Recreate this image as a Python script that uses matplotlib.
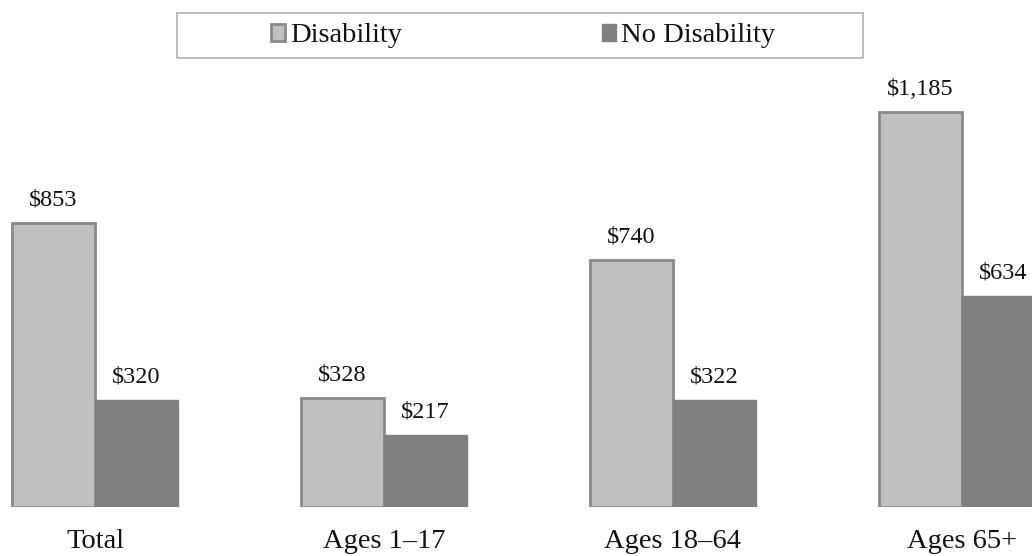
import matplotlib
matplotlib.use("Agg")
import matplotlib.pyplot as plt
from matplotlib.patches import Rectangle
import numpy as np

categories = ["Total", "Ages 1\u201317", "Ages 18\u201364", "Ages 65+"]
series_names = ["Disability", "No Disability"]
disability = [853, 328, 740, 1185]
no_disability = [320, 217, 322, 634]
value_labels_dis = ["$853", "$328", "$740", "$1,185"]
value_labels_nodis = ["$320", "$217", "$322", "$634"]

plt.rcParams['font.family'] = ['Liberation Serif', 'DejaVu Serif']

W, H = 1032, 556
fig = plt.figure(figsize=(W / 100, H / 100), dpi=100)
ax = fig.add_axes([0, 49 / H, 1, (H - 49) / H])

x = np.arange(len(categories))
bw = 83 / 289
xmin = -95 / 289
ax.set_xlim(xmin, xmin + W / 289)
ax.set_ylim(0, 507 / 0.3333)

b1 = ax.bar(x - bw / 2, disability, bw, color="#c0c0c0", edgecolor="#8a8a8a",
            linewidth=2.0, label=series_names[0], zorder=2)
b2 = ax.bar(x + bw / 2, no_disability, bw, color="#808080", edgecolor="#808080",
            linewidth=1.0, label=series_names[1], zorder=2)

for rect, lab in zip(b1, value_labels_dis):
    ax.annotate(lab, (rect.get_x() + rect.get_width() / 2, rect.get_height()),
                xytext=(0, 9), textcoords="offset points", ha="center", va="bottom",
                fontsize=17.5, color="#111111")
for rect, lab in zip(b2, value_labels_nodis):
    ax.annotate(lab, (rect.get_x() + rect.get_width() / 2, rect.get_height()),
                xytext=(0, 9), textcoords="offset points", ha="center", va="bottom",
                fontsize=17.5, color="#111111")

ax.axhline(0, color="#eeeeee", linewidth=0.8, zorder=1)
ax.set_xticks(x)
ax.set_xticklabels(categories, fontsize=20.5, color="#111111")
ax.tick_params(axis="x", length=0, pad=16)
ax.set_yticks([])
for s in ax.spines.values():
    s.set_visible(False)

# legend box
fig.patches.append(Rectangle((177 / W, 1 - 58 / H), (863 - 177) / W, 45 / H,
                             transform=fig.transFigure, facecolor="white",
                             edgecolor="#b0b0b0", linewidth=1.2, zorder=0))
leg = fig.legend(handles=[b1, b2], labels=series_names, loc="center",
                 bbox_to_anchor=(523 / W, 1 - 36 / H), ncol=2, frameon=False,
                 fontsize=20.5, handlelength=0.5, handleheight=0.5, handletextpad=0.18,
                 columnspacing=7.0)
for t in leg.get_texts():
    t.set_color("#111111")

fig.savefig("out.png", dpi=100)
